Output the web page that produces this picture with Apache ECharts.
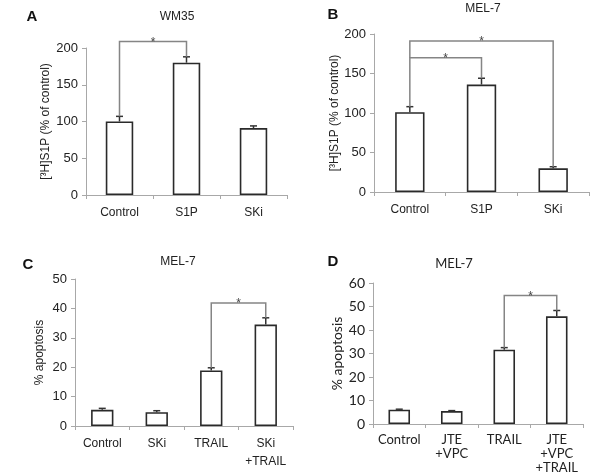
<!DOCTYPE html>
<html><head><meta charset="utf-8">
<script src="https://cdn.jsdelivr.net/npm/echarts@6/dist/echarts.min.js"></script>
<style>html,body{margin:0;padding:0;background:#fff}#c{width:600px;height:475px}</style>
</head><body><div id="c"></div>
<script>
// ---- data ----
const catsAB = ['Control', 'S1P', 'SKi'];
const valsA = [100, 180, 91];
const errA = [7, 8, 3];
const valsB = [101, 136, 30];
const errB = [7, 8, 2];
const catsC = ['Control', 'SKi', 'TRAIL', 'SKi\n+TRAIL'];
const valsC = [5.5, 4.7, 18.9, 34.5];
const errC = [0.5, 0.5, 0.9, 2.3];
const catsD = ['Control', 'JTE\n+VPC', 'TRAIL', 'JTE\n+VPC\n+TRAIL'];
const valsD = [6.1, 5.5, 31.6, 45.8];
const errD = [0.2, 0.2, 0.9, 2.5];
// significance brackets: [fromCat, toCat, topValue, leftLegEnd, rightLegEnd]
const sigA = [[0, 1, 209, 107, 188]];
const sigB = [[0, 2, 191, 170, 32], [0, 1, 170, 108, 144]];
const sigC = [[2, 3, 41.8, 19.8, 36.8]];
const sigD = [[2, 3, 54.7, 32.5, 48.3]];
const titles = ['WM35', 'MEL-7', 'MEL-7', 'MEL-7'];
const letters = ['A', 'B', 'C', 'D'];
const yNames = ['[³H]S1P (% of control)', '[³H]S1P (% of control)', '% apoptosis', '% apoptosis'];

const ARIAL = 'Liberation Sans, Arial, sans-serif';
const CAL = 'Lato, Liberation Sans, sans-serif';

const panels = [
  {cats: catsAB, vals: valsA, err: errA, sig: sigA, max: 200, step: 50,
   grid: {left: 86, width: 201, top: 48, height: 147}, font: ARIAL, tick: 13, cat: 12, lh: 18, gap: 34, nfs: 12,
   title: [177, 17], letter: [32, 17]},
  {cats: catsAB, vals: valsB, err: errB, sig: sigB, max: 200, step: 50,
   grid: {left: 374, width: 215, top: 34, height: 158}, font: ARIAL, tick: 13, cat: 12, lh: 18, gap: 22, nfs: 12,
   title: [483, 9], letter: [333, 15]},
  {cats: catsC, vals: valsC, err: errC, sig: sigC, max: 50, step: 10,
   grid: {left: 75, width: 218, top: 279, height: 147}, font: ARIAL, tick: 13, cat: 12, lh: 18, gap: 29, nfs: 12,
   title: [178, 262], letter: [28, 265]},
  {cats: catsD, vals: valsD, err: errD, sig: sigD, max: 60, step: 10,
   grid: {left: 373, width: 210, top: 283, height: 142}, font: CAL, tick: 14, cat: 13, lh: 14, gap: 29, nfs: 14,
   title: [454, 264], letter: [333, 262]}
];

function errRender(params, api) {
  const x = api.value(0), v = api.value(1), e = api.value(2);
  const p0 = api.coord([x, v]);
  const p1 = api.coord([x, v + e]);
  const w = 3.5;
  return {type: 'group', children: [
    {type: 'line', shape: {x1: p0[0], y1: p0[1], x2: p1[0], y2: p1[1]}, style: {stroke: '#333', lineWidth: 1.5}},
    {type: 'line', shape: {x1: p1[0] - w, y1: p1[1], x2: p1[0] + w, y2: p1[1]}, style: {stroke: '#333', lineWidth: 1.5}}
  ]};
}
function sigRender(params, api) {
  const a = api.value(0), b = api.value(1), t = api.value(2), y1 = api.value(3), y2 = api.value(4);
  const pa = api.coord([a, t]), pb = api.coord([b, t]);
  const qa = api.coord([a, y1]), qb = api.coord([b, y2]);
  return {type: 'group', children: [
    {type: 'polyline', shape: {points: [qa, pa, pb, qb]}, style: {stroke: '#858585', lineWidth: 1.5, fill: null}},
    {type: 'text', style: {x: (pa[0] + pb[0]) / 2, y: pa[1] + 1, text: '*', fill: '#444',
      font: '12px Liberation Sans, Arial, sans-serif', textAlign: 'center', textVerticalAlign: 'middle'}}
  ]};
}

const grid = [], xAxis = [], yAxis = [], series = [], graphic = [];
panels.forEach((p, i) => {
  grid.push(p.grid);
  xAxis.push({type: 'category', gridIndex: i, data: p.cats, boundaryGap: true,
    axisLine: {lineStyle: {color: '#a8a8a8', width: 1}},
    axisTick: {show: true, length: 4, lineStyle: {color: '#a8a8a8'}},
    axisLabel: {color: '#222', fontFamily: p.font, fontSize: p.cat, margin: 9, lineHeight: p.lh, interval: 0}});
  yAxis.push({type: 'value', gridIndex: i, min: 0, max: p.max, interval: p.step,
    splitLine: {show: false},
    axisLine: {show: true, lineStyle: {color: '#a8a8a8', width: 1}},
    axisTick: {show: true, length: 4, lineStyle: {color: '#a8a8a8'}},
    axisLabel: {color: '#222', fontFamily: p.font, fontSize: p.tick, margin: 8},
    name: yNames[i], nameLocation: 'middle', nameGap: p.gap,
    nameTextStyle: {color: '#222', fontFamily: p.font, fontSize: p.nfs}});
  series.push({type: 'bar', xAxisIndex: i, yAxisIndex: i, data: p.vals, barWidth: '41%',
    itemStyle: {color: '#fff', borderColor: '#2a2a2a', borderWidth: 1.6}, silent: true});
  series.push({type: 'custom', xAxisIndex: i, yAxisIndex: i, renderItem: errRender, silent: true,
    encode: {x: 0, y: 1}, data: p.vals.map((v, k) => [k, v, p.err[k]]), z: 3});
  series.push({type: 'custom', xAxisIndex: i, yAxisIndex: i, renderItem: sigRender, silent: true,
    encode: {x: 0, y: 2}, data: p.sig, z: 4, clip: false});
  graphic.push({type: 'text', x: p.title[0], y: p.title[1],
    style: {text: titles[i], fill: '#222', font: (i === 3 ? '13px ' + CAL : '12px ' + ARIAL), textAlign: 'center', textVerticalAlign: 'middle'}});
  graphic.push({type: 'text', x: p.letter[0], y: p.letter[1],
    style: {text: letters[i], fill: '#111', font: 'bold 15px ' + ARIAL, textAlign: 'center', textVerticalAlign: 'middle'}});
});

const chart = echarts.init(document.getElementById('c'), null, {renderer: 'canvas'});
chart.setOption({animation: false, backgroundColor: '#fff', grid, xAxis, yAxis, series, graphic});
</script>
</body></html>
